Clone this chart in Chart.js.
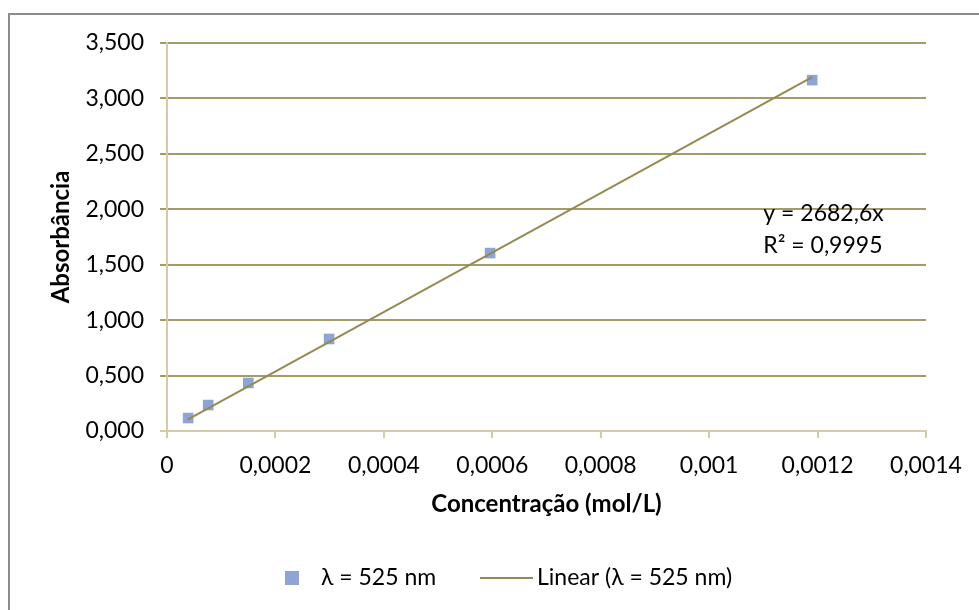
<!DOCTYPE html>
<html>
<head>
<meta charset="utf-8">
<script src="https://cdn.jsdelivr.net/npm/chart.js@4.4.1/dist/chart.umd.min.js"></script>
<style>
html,body{margin:0;padding:0;background:#fff;}
#wrap{position:relative;width:979px;height:610px;}
</style>
</head>
<body>
<div id="wrap"><canvas id="c" width="979" height="610"></canvas></div>
<script>
// ---- data ----
const concentrations = [0.0000390, 0.0000760, 0.000150, 0.000299, 0.000596, 0.00119];
const absorbances    = [0.117, 0.234, 0.433, 0.830, 1.605, 3.165];
const trendX = [0.0000380, 0.00119];
const trendY = [0.1019, 3.192];
const xTickValues = [0, 0.0002, 0.0004, 0.0006, 0.0008, 0.001, 0.0012, 0.0014];
const yTickValues = [0, 0.5, 1.0, 1.5, 2.0, 2.5, 3.0, 3.5];
const seriesLabel = 'λ = 525 nm';
const trendLabel = 'Linear (λ = 525 nm)';
const equationText = 'y = 2682,6x';
const r2Text = 'R² = 0,9995';
const xTitle = 'Concentração (mol/L)';
const yTitle = 'Absorbância';

const FONT = 'Lato, "Open Sans", sans-serif';
const FS = 23;
const FSB = 24;
const markerColor = '#8EA4D2';
const lineColor = '#948A54';
const gridColor = '#A39B6B';
const axisColor = '#D3CCA6';

const fmtX = v => v === 0 ? '0' : String(Number(v.toFixed(4))).replace('.', ',');
const fmtY = v => v.toFixed(3).replace('.', ',');

const decor = {
  id: 'decor',
  beforeDraw(chart) {
    const ctx = chart.ctx;
    ctx.save();
    ctx.fillStyle = '#fff';
    ctx.fillRect(0, 0, chart.width, chart.height);
    ctx.strokeStyle = '#8C8C8C';
    ctx.lineWidth = 2;
    ctx.beginPath();
    ctx.moveTo(9, chart.height);
    ctx.lineTo(9, 14);
    ctx.lineTo(chart.width, 14);
    ctx.stroke();
    ctx.restore();
  },
  afterDraw(chart) {
    const ctx = chart.ctx;
    const xs = chart.scales.x, ys = chart.scales.y;
    ctx.save();
    ctx.fillStyle = '#000';
    ctx.font = FS + 'px ' + FONT;
    ctx.textBaseline = 'middle';
    ctx.textAlign = 'left';
    const ax = xs.getPixelForValue(0.0011);
    ctx.fillText(equationText, ax, ys.getPixelForValue(1.965));
    ctx.fillText(r2Text, ax, ys.getPixelForValue(1.675));
    // legend
    const ly = 578;
    ctx.fillStyle = markerColor;
    ctx.fillRect(285, ly - 7, 14, 14);
    ctx.fillStyle = '#000';
    ctx.fillText(seriesLabel, 321, ly);
    ctx.strokeStyle = lineColor;
    ctx.lineWidth = 2;
    ctx.beginPath();
    ctx.moveTo(480, ly);
    ctx.lineTo(533, ly);
    ctx.stroke();
    ctx.fillText(trendLabel, 537, ly);
    ctx.restore();
  }
};

new Chart(document.getElementById('c'), {
  type: 'scatter',
  data: {
    datasets: [
      {
        label: seriesLabel,
        data: concentrations.map((x, i) => ({x, y: absorbances[i]})),
        pointStyle: 'rect',
        pointRadius: 7.5,
        pointHoverRadius: 7.5,
        backgroundColor: markerColor,
        borderColor: markerColor,
        borderWidth: 0,
        order: 2
      },
      {
        type: 'line',
        label: trendLabel,
        data: trendX.map((x, i) => ({x, y: trendY[i]})),
        borderColor: lineColor,
        borderWidth: 2,
        pointRadius: 0,
        fill: false,
        order: 1
      }
    ]
  },
  options: {
    responsive: false,
    animation: false,
    events: [],
    layout: { padding: { left: 10, top: 43, right: 53, bottom: 51 } },
    plugins: { legend: { display: false }, tooltip: { enabled: false } },
    scales: {
      x: {
        type: 'linear',
        min: 0, max: 0.0014,
        afterBuildTicks: s => { s.ticks = xTickValues.map(v => ({value: v})); },
        afterFit: s => { s.height = 128; },
        ticks: { callback: v => fmtX(v), color: '#000', font: { family: FONT, size: FS }, padding: 14, maxRotation: 0, autoSkip: false },
        grid: { drawOnChartArea: false, drawTicks: true, tickLength: 7, color: axisColor, lineWidth: 2 },
        border: { display: true, color: axisColor, width: 2 },
        title: { display: true, text: xTitle, color: '#000', font: { family: FONT, size: FSB, weight: 'bold' }, padding: { top: 0, bottom: 40 } }
      },
      y: {
        type: 'linear',
        min: 0, max: 3.5,
        afterBuildTicks: s => { s.ticks = yTickValues.map(v => ({value: v})); },
        afterFit: s => { s.width = 157; },
        ticks: { callback: v => fmtY(v), color: '#000', font: { family: FONT, size: FS }, padding: 16 },
        grid: { drawTicks: true, tickLength: 7, color: c => (c.tick && c.tick.value === 0) ? axisColor : gridColor, lineWidth: 2 },
        border: { display: true, color: axisColor, width: 2 },
        title: { display: true, text: yTitle, color: '#000', font: { family: FONT, size: FSB, weight: 'bold' }, padding: { top: 37, bottom: 0 } }
      }
    }
  },
  plugins: [decor]
});
</script>
</body>
</html>
